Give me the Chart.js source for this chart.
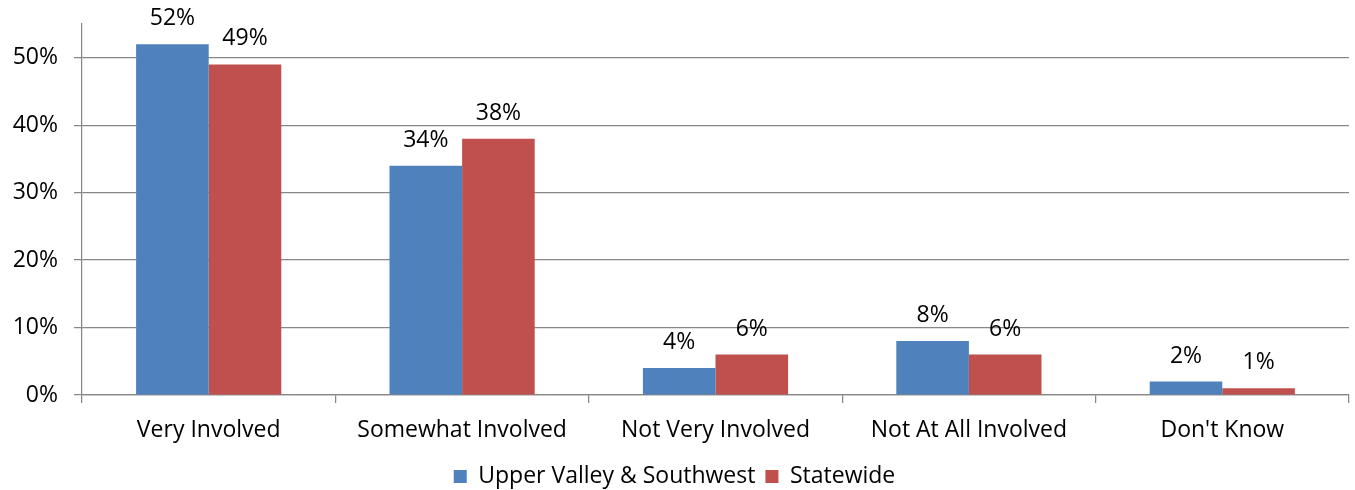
<!DOCTYPE html>
<html>
<head>
<meta charset="utf-8">
<script src="https://cdn.jsdelivr.net/npm/chart.js@4"></script>
<style>
  html, body { margin: 0; padding: 0; background: #fff; }
  #wrap { width: 1355px; height: 490px; }
</style>
</head>
<body>
<div id="wrap"><canvas id="involvedChart"></canvas></div>
<script>
const categories = ["Very Involved", "Somewhat Involved", "Not Very Involved", "Not At All Involved", "Don't Know"];
const upperValley = [52, 34, 4, 8, 2];
const statewide = [49, 38, 6, 6, 1];
const yTicks = [0, 10, 20, 30, 40, 50];

const FONT = "'Open Sans', Lato, sans-serif";
const GRID = "#878787";

// value labels above every bar
const barLabels = {
  id: "barLabels",
  afterDatasetsDraw(chart) {
    const ctx = chart.ctx;
    ctx.save();
    ctx.font = "23px " + FONT;
    ctx.fillStyle = "#000";
    ctx.textAlign = "center";
    ctx.textBaseline = "alphabetic";
    chart.data.datasets.forEach((ds, i) => {
      chart.getDatasetMeta(i).data.forEach((bar, j) => {
        ctx.fillText(ds.data[j] + "%", bar.x, bar.y - 19);
      });
    });
    ctx.restore();
  }
};

new Chart(document.getElementById("involvedChart"), {
  type: "bar",
  data: {
    labels: categories,
    datasets: [
      {
        label: "Upper Valley & Southwest",
        data: upperValley,
        backgroundColor: "#4F81BD",
        borderWidth: 0
      },
      {
        label: "Statewide",
        data: statewide,
        backgroundColor: "#C0504D",
        borderWidth: 0
      }
    ]
  },
  options: {
    responsive: true,
    maintainAspectRatio: false,
    animation: false,
    layout: { padding: { top: 24, right: 6, left: 0, bottom: -8 } },
    datasets: { bar: { categoryPercentage: 0.573, barPercentage: 1 } },
    scales: {
      x: {
        grid: { display: true, drawOnChartArea: false, offset: true, color: GRID, tickLength: 8, lineWidth: 1.25 },
        border: { color: GRID, width: 1.25 },
        ticks: { color: "#000", font: { family: FONT, size: 23 }, padding: 14, maxRotation: 0 },
        afterFit(scale) { scale.height = 60; }
      },
      y: {
        min: 0,
        max: 55,
        afterBuildTicks(scale) { scale.ticks = yTicks.map(v => ({ value: v })); },
        grid: { color: GRID, tickLength: 8, lineWidth: 1.25 },
        border: { color: GRID, width: 1.25 },
        ticks: {
          color: "#000",
          font: { family: FONT, size: 23 },
          padding: 16,
          callback: v => v + "%"
        },
        afterFit(scale) {
          scale.width = 82;
          // top label sits at 50%, not at the edge, so no extra room is needed
          scale.paddingTop = 0;
          scale.paddingBottom = 0;
        }
      }
    },
    plugins: {
      legend: {
        position: "bottom",
        labels: {
          color: "#000",
          font: { family: FONT, size: 23 },
          boxWidth: 13,
          boxHeight: 13,
          padding: 10
        }
      },
      tooltip: { enabled: false }
    }
  },
  plugins: [barLabels]
});
</script>
</body>
</html>
